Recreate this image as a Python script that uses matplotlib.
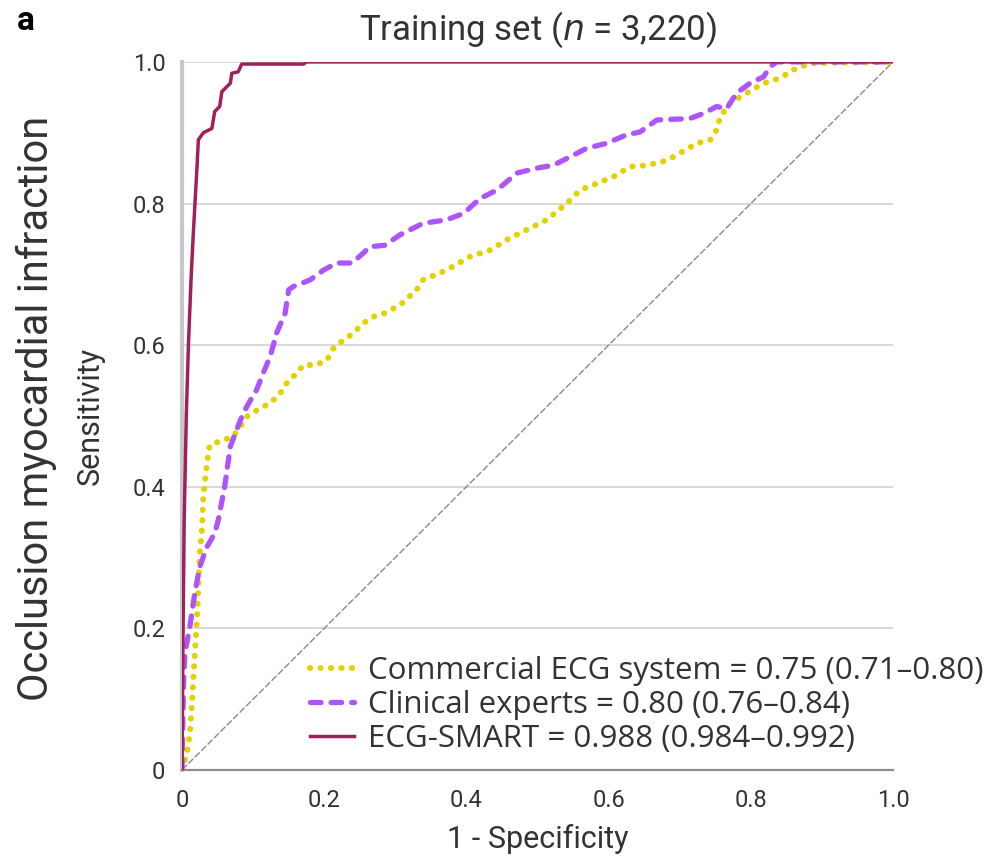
import matplotlib
matplotlib.use("Agg")
import matplotlib.pyplot as plt

# ROC points (1 - specificity, sensitivity)
smart_fpr = [0, 0.001, 0.003, 0.006, 0.009, 0.013, 0.016, 0.021, 0.023, 0.030, 0.042, 0.046,
             0.053, 0.056, 0.068, 0.070, 0.079, 0.084, 0.171, 0.175, 1.0]
smart_tpr = [0, 0.15, 0.35, 0.50, 0.60, 0.70, 0.76, 0.85, 0.89, 0.90, 0.906, 0.93,
             0.937, 0.958, 0.970, 0.984, 0.986, 0.997, 0.997, 1.0, 1.0]

expert_fpr = [0, 0.002, 0.004, 0.011, 0.018, 0.025, 0.035, 0.046, 0.051, 0.060, 0.068, 0.082,
              0.091, 0.105, 0.114, 0.124, 0.133, 0.145, 0.150, 0.157, 0.180, 0.199, 0.218,
              0.239, 0.255, 0.264, 0.285, 0.307, 0.339, 0.372, 0.396, 0.419, 0.443, 0.471,
              0.499, 0.522, 0.546, 0.569, 0.597, 0.625, 0.644, 0.668, 0.691, 0.714, 0.733,
              0.752, 0.766, 0.780, 0.799, 0.818, 0.827, 0.836, 1.0]
expert_tpr = [0, 0.118, 0.165, 0.202, 0.250, 0.287, 0.315, 0.334, 0.353, 0.400, 0.457, 0.494,
              0.513, 0.537, 0.560, 0.584, 0.617, 0.645, 0.678, 0.683, 0.692, 0.706, 0.716,
              0.716, 0.730, 0.739, 0.741, 0.756, 0.772, 0.777, 0.786, 0.807, 0.819, 0.843,
              0.850, 0.854, 0.866, 0.878, 0.885, 0.897, 0.901, 0.918, 0.919, 0.920, 0.927,
              0.937, 0.934, 0.956, 0.970, 0.979, 0.993, 1.0, 1.0]

ecg_fpr = [0, 0.007, 0.011, 0.014, 0.018, 0.021, 0.023, 0.025, 0.028, 0.030, 0.035, 0.039,
           0.058, 0.072, 0.082, 0.091, 0.110, 0.124, 0.138, 0.147, 0.161, 0.171, 0.189,
           0.204, 0.213, 0.227, 0.241, 0.255, 0.269, 0.285, 0.307, 0.330, 0.339, 0.372,
           0.405, 0.433, 0.457, 0.485, 0.513, 0.541, 0.560, 0.583, 0.607, 0.630, 0.654,
           0.682, 0.700, 0.724, 0.743, 0.752, 0.757, 0.771, 0.794, 0.818, 0.841, 0.860,
           0.883, 1.0]
ecg_tpr = [0, 0.024, 0.052, 0.094, 0.165, 0.212, 0.259, 0.306, 0.339, 0.386, 0.433, 0.459,
           0.466, 0.471, 0.485, 0.499, 0.511, 0.518, 0.532, 0.546, 0.560, 0.572, 0.572,
           0.579, 0.596, 0.607, 0.617, 0.631, 0.640, 0.645, 0.657, 0.678, 0.692, 0.706,
           0.725, 0.734, 0.749, 0.763, 0.777, 0.800, 0.819, 0.828, 0.838, 0.852, 0.854,
           0.861, 0.871, 0.885, 0.890, 0.904, 0.923, 0.942, 0.956, 0.970, 0.977, 0.989,
           0.998, 1.0]

labels = ["Commercial ECG system = 0.75 (0.71\u20130.80)",
          "Clinical experts = 0.80 (0.76\u20130.84)",
          "ECG-SMART = 0.988 (0.984\u20130.992)"]
ticks = [0, 0.2, 0.4, 0.6, 0.8, 1.0]
tick_labels = ["0", "0.2", "0.4", "0.6", "0.8", "1.0"]

plt.rcParams['font.family'] = ['Roboto', 'DejaVu Sans']
txt = '#333333'

fig = plt.figure(figsize=(9.99, 8.6), dpi=100)
ax = fig.add_axes([0.1822, 0.1047, 0.7117, 0.8233])

# chance line
ax.plot([0, 1], [0, 1], color='#8a8a8a', lw=1.0, linestyle=(0, (5, 1.5)), zorder=2)

ax.plot(ecg_fpr, ecg_tpr, color='#E3D100', lw=4.3, linestyle=(0, (0.05, 1.7)),
        dash_capstyle='round', label=labels[0], zorder=3)
ax.plot(expert_fpr, expert_tpr, color='#AE55FA', lw=3.8, linestyle=(0, (2.0, 1.9)),
        dash_capstyle='round', label=labels[1], zorder=4)
ax.plot(smart_fpr, smart_tpr, color='#A1205C', lw=2.5, label=labels[2], zorder=5,
        solid_joinstyle='round')

ax.set_xlim(0, 1)
ax.set_ylim(0, 1)
ax.set_xticks(ticks)
ax.set_xticklabels(tick_labels)
ax.set_yticks(ticks)
ax.set_yticklabels(tick_labels)
ax.tick_params(length=0, labelsize=17, colors=txt)
ax.tick_params(axis='x', pad=14)
ax.tick_params(axis='y', pad=12)
ax.yaxis.grid(True, color='#d6d6d6', lw=1.3)
ax.set_axisbelow(True)

for s in ['top', 'right']:
    ax.spines[s].set_visible(False)
ax.spines['left'].set_color('#c8c8c8')
ax.spines['left'].set_linewidth(3)
ax.spines['bottom'].set_color('#8c8c8c')
ax.spines['bottom'].set_linewidth(1.6)

ax.set_xlabel('1 - Specificity', fontsize=22, color=txt)
ax.xaxis.set_label_coords(0.5, -0.077)
ax.set_ylabel('Sensitivity', fontsize=22, color=txt)
ax.yaxis.set_label_coords(-0.108, 0.5)

fig.text(0.5385, 0.965, 'Training set ($n$ = 3,220)', fontsize=25, color=txt,
         ha='center', va='center')
fig.text(0.036, 0.525, 'Occlusion myocardial infraction', rotation=90, fontsize=30,
         color=txt, ha='center', va='center')
fig.text(0.026, 0.975, 'a', fontsize=24, fontweight='bold', ha='center', va='center')

leg = ax.legend(loc='lower left', bbox_to_anchor=(0.163, 0.005), frameon=False,
                prop={'family': ['Open Sans', 'DejaVu Sans'], 'size': 22.5},
                handlelength=1.4, handletextpad=0.45, labelspacing=0.13,
                borderaxespad=0.0, labelcolor=txt)

fig.savefig('out.png', dpi=100)
